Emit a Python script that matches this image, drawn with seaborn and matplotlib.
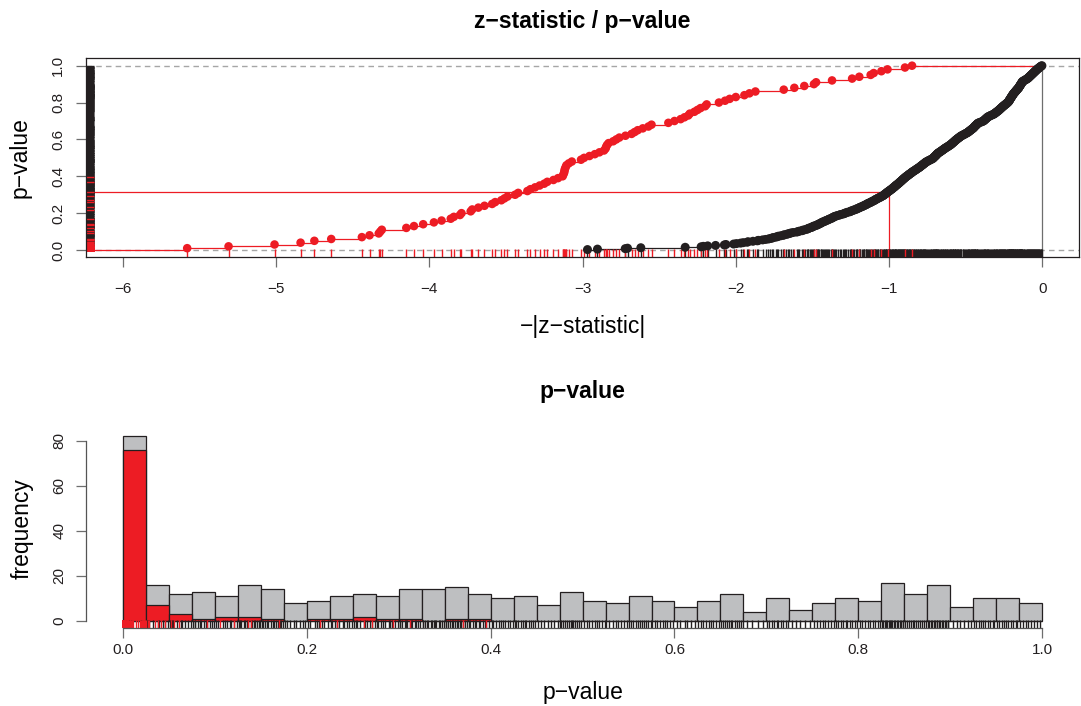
from statistics import NormalDist
import numpy as np
import pandas as pd
import matplotlib
matplotlib.use('Agg')
import matplotlib.pyplot as plt
import seaborn as sns

plt.rcParams['font.family'] = ['Liberation Sans', 'DejaVu Sans']

# highlighted (red) features: z-statistics
red_z = [-5.58, -5.31, -5.01, -4.84, -4.75, -4.64, -4.44, -4.39, -4.33, -4.32,
         -4.31, -4.15, -4.10, -4.04, -3.97, -3.92, -3.86, -3.84, -3.80, -3.79,
         -3.73, -3.72, -3.68, -3.64, -3.59, -3.57, -3.53, -3.51, -3.49, -3.44,
         -3.42, -3.36, -3.34, -3.31, -3.28, -3.25, -3.23, -3.19, -3.16, -3.13,
         -3.125, -3.12, -3.118, -3.115, -3.11, -3.105, -3.09, -3.07, -3.01, -2.99,
         -2.955, -2.92, -2.89, -2.86, -2.85, -2.846, -2.84, -2.83, -2.80, -2.78,
         -2.76, -2.72, -2.68, -2.66, -2.64, -2.607, -2.57, -2.55, -2.44, -2.40,
         -2.36, -2.335, -2.31, -2.30, -2.27, -2.25, -2.23, -2.20, -2.19, -2.11,
         -2.07, -2.04, -2.00, -1.944, -1.911, -1.872, -1.687, -1.618, -1.553, -1.49,
         -1.476, -1.372, -1.241, -1.194, -1.12, -1.10, -1.05, -1.01, -0.896, -0.85]

# all other features: p-values, read bin by bin from the histogram / rug
black_p = [
    0.0030, 0.0037, 0.0065, 0.0068, 0.0088, 0.0198,
    0.026, 0.027, 0.029, 0.033, 0.038, 0.039, 0.044, 0.046, 0.049,
    0.051, 0.054, 0.055, 0.059, 0.063, 0.064, 0.068, 0.071, 0.074,
    0.076, 0.078, 0.079, 0.082, 0.084, 0.085, 0.088, 0.091, 0.092, 0.095, 0.097, 0.099,
    0.101, 0.104, 0.109, 0.111, 0.113, 0.117, 0.118, 0.121, 0.124,
    0.126, 0.127, 0.129, 0.132, 0.133, 0.135, 0.136, 0.139, 0.141, 0.143, 0.144, 0.146, 0.148, 0.149,
    0.151, 0.152, 0.155, 0.157, 0.158, 0.161, 0.163, 0.164, 0.167, 0.169, 0.171, 0.172, 0.174,
    0.176, 0.179, 0.182, 0.186, 0.188, 0.193, 0.196, 0.198,
    0.201, 0.204, 0.209, 0.211, 0.213, 0.217, 0.219, 0.223,
    0.226, 0.227, 0.231, 0.233, 0.235, 0.239, 0.241, 0.244, 0.246, 0.249,
    0.251, 0.254, 0.255, 0.258, 0.262, 0.263, 0.266, 0.269, 0.271, 0.274,
    0.276, 0.277, 0.281, 0.283, 0.285, 0.289, 0.291, 0.293, 0.296, 0.299,
    0.301, 0.302, 0.304, 0.307, 0.308, 0.309, 0.312, 0.313, 0.315, 0.318, 0.319, 0.321, 0.323,
    0.326, 0.327, 0.329, 0.331, 0.332, 0.335, 0.336, 0.338, 0.339, 0.341, 0.344, 0.345, 0.347, 0.349,
    0.351, 0.352, 0.354, 0.356, 0.358, 0.359, 0.361, 0.363, 0.364, 0.367, 0.368, 0.370, 0.372, 0.374,
    0.376, 0.378, 0.381, 0.383, 0.384, 0.387, 0.389, 0.392, 0.394, 0.395, 0.398,
    0.401, 0.403, 0.406, 0.409, 0.411, 0.413, 0.416, 0.419, 0.421, 0.424,
    0.426, 0.428, 0.430, 0.433, 0.435, 0.437, 0.439, 0.442, 0.444, 0.446, 0.448,
    0.452, 0.455, 0.458, 0.462, 0.466, 0.469, 0.473,
    0.476, 0.477, 0.479, 0.481, 0.483, 0.485, 0.487, 0.489, 0.490, 0.492, 0.494, 0.496, 0.498,
    0.502, 0.505, 0.507, 0.510, 0.513, 0.516, 0.518, 0.521, 0.524,
    0.526, 0.529, 0.533, 0.536, 0.539, 0.542, 0.545, 0.548,
    0.551, 0.553, 0.555, 0.558, 0.560, 0.562, 0.565, 0.567, 0.569, 0.571, 0.574,
    0.576, 0.579, 0.581, 0.584, 0.587, 0.590, 0.592, 0.595, 0.598,
    0.603, 0.606, 0.611, 0.614, 0.618, 0.622,
    0.626, 0.629, 0.631, 0.634, 0.637, 0.640, 0.642, 0.645, 0.648,
    0.651, 0.653, 0.655, 0.657, 0.659, 0.661, 0.663, 0.666, 0.668, 0.670, 0.672, 0.674,
    0.679, 0.684, 0.691, 0.696,
    0.701, 0.703, 0.706, 0.708, 0.711, 0.713, 0.716, 0.718, 0.721, 0.723,
    0.728, 0.732, 0.737, 0.742, 0.747,
    0.752, 0.755, 0.758, 0.761, 0.764, 0.767, 0.770, 0.773,
    0.776, 0.778, 0.781, 0.783, 0.786, 0.788, 0.791, 0.793, 0.796, 0.798,
    0.802, 0.804, 0.807, 0.810, 0.813, 0.816, 0.818, 0.821, 0.823,
    0.826, 0.827, 0.829, 0.830, 0.831, 0.833, 0.834, 0.836, 0.837, 0.839, 0.840, 0.842, 0.843, 0.845, 0.846, 0.848, 0.849,
    0.851, 0.853, 0.855, 0.857, 0.859, 0.861, 0.863, 0.865, 0.867, 0.869, 0.871, 0.873,
    0.876, 0.877, 0.879, 0.880, 0.882, 0.883, 0.885, 0.886, 0.888, 0.889, 0.891, 0.892, 0.894, 0.895, 0.897, 0.898,
    0.903, 0.907, 0.911, 0.915, 0.919, 0.923,
    0.926, 0.928, 0.931, 0.933, 0.936, 0.938, 0.941, 0.943, 0.946, 0.948,
    0.951, 0.953, 0.956, 0.958, 0.961, 0.963, 0.966, 0.968, 0.971, 0.973,
    0.976, 0.979, 0.982, 0.985, 0.988, 0.991, 0.994, 0.998,
]

z_cut = -1.0
hist_bins = np.arange(0, 1.0001, 0.025)

RED = '#ED1C24'
DARK = '#231F20'
GREY = '#BEBFC1'
DASH = '#A6A6A6'

nd = NormalDist()
red_z = np.sort(np.array(red_z))
red_p = np.array([2 * nd.cdf(z) for z in red_z])
black_p = np.sort(np.array(black_p))
black_z = np.array([nd.inv_cdf(p / 2) for p in black_p])

red_df = pd.DataFrame({"z": red_z, "F": np.arange(1, len(red_z) + 1) / len(red_z)})
black_df = pd.DataFrame({"z": black_z, "F": np.arange(1, len(black_z) + 1) / len(black_z)})

fig = plt.figure(figsize=(10.81, 7.06), dpi=100)

# ---------------- upper panel ----------------
xlim = (-6.24, 0.24)
ylim = (-0.04, 1.04)
ax1 = fig.add_axes([0.0796, 0.6354, 0.9186, 0.2820])

ax1.axhline(0, color=DASH, ls=(0, (4, 3)), lw=1)
ax1.axhline(1, color=DASH, ls=(0, (4, 3)), lw=1)
p_cut = 2 * nd.cdf(z_cut)
ax1.plot([xlim[0], z_cut, z_cut], [p_cut, p_cut, ylim[0]], color=RED, lw=0.9)
ax1.plot([0, 0], [ylim[0], 1], color='#6E6E6E', lw=0.9)

# step lines (ecdf)
ax1.plot([xlim[0]] + list(red_df.z) + [0], [0] + list(red_df.F) + [1],
         drawstyle='steps-post', color=RED, lw=0.9)
ax1.plot(list(black_df.z) + [0], list(black_df.F) + [1],
         drawstyle='steps-post', color=DARK, lw=0.9)

sns.scatterplot(data=black_df, x="z", y="F", color=DARK, s=42, edgecolor='none', ax=ax1, zorder=3)
sns.scatterplot(data=red_df, x="z", y="F", color=RED, s=38, edgecolor='none', ax=ax1, zorder=4)

# rugs
sns.rugplot(x=black_z, height=0.04, color=DARK, lw=0.8, expand_margins=False, ax=ax1)
sns.rugplot(x=red_z, height=0.04, color=RED, lw=0.8, expand_margins=False, ax=ax1)
sns.rugplot(y=black_p, height=0.008, color=DARK, lw=0.8, expand_margins=False, ax=ax1)
sns.rugplot(y=red_p, height=0.008, color=RED, lw=0.8, expand_margins=False, ax=ax1)

ax1.set_xlim(*xlim)
ax1.set_ylim(*ylim)
ax1.set_xticks([-6, -5, -4, -3, -2, -1, 0])
ax1.set_yticks([0, 0.2, 0.4, 0.6, 0.8, 1.0])
ax1.set_yticklabels(["0.0", "0.2", "0.4", "0.6", "0.8", "1.0"])
ax1.set_title("z\u2212statistic / p\u2212value", fontsize=16.5, fontweight='bold', pad=22)
ax1.set_xlabel("\u2212|z\u2212statistic|", fontsize=16.5, labelpad=14)
ax1.set_ylabel("p\u2212value", fontsize=16.5, labelpad=14)
for s in ax1.spines.values():
    s.set_color(DARK)
    s.set_linewidth(0.9)

# ---------------- lower panel ----------------
ax2 = fig.add_axes([0.0796, 0.1099, 0.9186, 0.2827])
all_p = np.concatenate([black_p, red_p])
sns.histplot(x=all_p, bins=hist_bins, color=GREY, edgecolor=DARK, linewidth=0.9, alpha=1, ax=ax2)
sns.histplot(x=red_p, bins=hist_bins, color=RED, edgecolor=DARK, linewidth=0.9, alpha=1, ax=ax2)
sns.rugplot(x=black_p, height=0.04, color=DARK, lw=0.8, expand_margins=False, ax=ax2)
sns.rugplot(x=red_p, height=0.04, color=RED, lw=0.8, expand_margins=False, ax=ax2)

ax2.set_xlim(-0.04, 1.04)
ax2.set_ylim(-3.28, 85.28)
ax2.set_xticks([0, 0.2, 0.4, 0.6, 0.8, 1.0])
ax2.set_xticklabels(["0.0", "0.2", "0.4", "0.6", "0.8", "1.0"])
ax2.set_yticks([0, 20, 40, 60, 80])
ax2.set_title("p\u2212value", fontsize=16.5, fontweight='bold', pad=22)
ax2.set_xlabel("p\u2212value", fontsize=16.5, labelpad=17)
ax2.set_ylabel("frequency", fontsize=16.5, labelpad=14)
ax2.spines['top'].set_visible(False)
ax2.spines['right'].set_visible(False)
ax2.spines['left'].set_bounds(0, 80)
ax2.spines['bottom'].set_bounds(0, 1)
for s in ax2.spines.values():
    s.set_color('#555555')
    s.set_linewidth(0.9)

for ax in (ax1, ax2):
    ax.tick_params(axis='both', length=7, width=0.9, color='#6E6E6E',
                   labelsize=11, labelcolor='#231F20')
    ax.tick_params(axis='y', labelrotation=90)
    for lab in ax.get_yticklabels():
        lab.set_verticalalignment('center')
ax1.tick_params(axis='x', pad=10.5)
ax1.tick_params(axis='y', pad=8)
ax2.tick_params(axis='x', pad=3.5)
ax2.tick_params(axis='y', pad=7)

fig.savefig("out.png", dpi=100)
plt.close(fig)
